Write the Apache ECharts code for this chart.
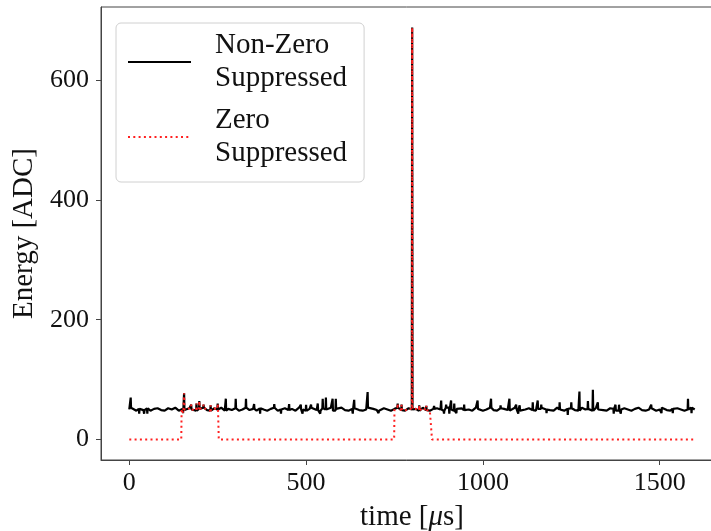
<!DOCTYPE html>
<html>
<head>
<meta charset="utf-8">
<script src="https://cdn.jsdelivr.net/npm/echarts@6/dist/echarts.min.js"></script>
<style>html,body{margin:0;padding:0;background:#fff}#c{width:711px;height:531px}</style>
</head>
<body>
<div id="c"></div>
<script>
// ---- data ----
const seriesNames = ['Non-Zero\nSuppressed', 'Zero\nSuppressed'];
const xTicks = [0, 500, 1000, 1500];
const yTicks = [0, 200, 400, 600];
const tEnd = 1599;            // last sample time [µs]
const baseStep = 10;          // baseline samples every 10 µs
const baseline = [
50,53,48,51,49,52,48,51,52,49,
48,52,50,53,48,51,49,52,50,48,
51,53,49,48,52,50,53,48,51,49,
52,48,50,53,49,51,48,52,50,48,
51,53,48,50,52,49,51,48,53,50,
48,51,53,49,48,52,50,53,48,51,
53,49,48,51,52,49,48,50,53,51,
49,48,52,50,48,51,53,49,48,52,
50,51,48,53,49,48,51,52,50,48,
53,50,48,51,52,49,50,48,53,51,
48,50,53,49,48,52,51,49,48,53,
51,48,50,52,49,48,51,53,50,49,
48,53,50,48,51,52,49,48,53,50,
51,48,53,50,49,48,52,51,48,50,
52,50,48,51,53,49,48,50,52,48,
50,53,49,48,51,52,50,48,50,53,
50
];
const spikeTimes  = [4, 28, 42, 51, 152, 155, 175, 190, 198, 210, 230, 250, 273, 301, 330, 353, 370, 410, 429, 452, 485, 490, 500, 514, 533, 540, 547, 556, 575, 584, 632, 636, 674, 705, 759, 770, 800, 820, 840, 862, 882, 890, 896, 905, 910, 919, 925, 947, 985, 1023, 1050, 1075, 1094, 1100, 1104, 1141, 1155, 1165, 1180, 1217, 1240, 1250, 1273, 1297, 1311, 1325, 1370, 1375, 1385, 1390, 1476, 1505, 1537, 1580, 1590];
const spikeValues = [70, 43, 43, 43, 44, 77, 58, 60, 64, 58, 57, 60, 68, 68, 68, 59, 43, 59, 43, 59, 58, 43, 58, 58, 60, 43, 68, 70, 68, 68, 43, 66, 79, 44, 60, 58, 688, 57, 56, 56, 65, 43, 58, 43, 65, 60, 44, 58, 65, 68, 57, 68, 58, 43, 57, 62, 65, 58, 44, 62, 41, 62, 80, 64, 83, 62, 43, 58, 58, 43, 58, 44, 44, 68, 44];
const zsWindows = [[148, 252], [750, 855]];

// ---- build series from data ----
function baseAt(t) { return baseline[Math.max(0, Math.min(baseline.length - 1, Math.round(t / baseStep)))]; }
const nz = [];
baseline.forEach((v, i) => {
  const t = Math.min(i * baseStep, tEnd);
  if (!spikeTimes.some(s => Math.abs(s - t) <= 1)) nz.push([t, v]);
});
spikeTimes.forEach((s, k) => {
  nz.push([s - 1, baseAt(s - 1)], [s, spikeValues[k]], [s + 1, baseAt(s + 1)]);
});
nz.sort((a, b) => a[0] - b[0]);

const zs = [[0, 0]];
zsWindows.forEach(([a, b]) => {
  zs.push([a - 1, 0], [a, baseAt(a)]);
  nz.filter(p => p[0] > a && p[0] < b).forEach(p => zs.push(p));
  zs.push([b, baseAt(b)], [b + 1, 0]);
});
zs.push([tEnd, 0]);

const FONT = 'Liberation Serif';
const chart = echarts.init(document.getElementById('c'), null, { renderer: 'canvas' });
chart.setOption({
  animation: false,
  backgroundColor: '#fff',
  grid: { left: 101, top: 7, right: -12, bottom: 71, show: true, borderColor: '#444', borderWidth: 1,
          backgroundColor: 'transparent', containLabel: false, outerBoundsMode: 'none' },
  legend: {
    data: seriesNames,
    orient: 'vertical',
    left: 116, top: 23,
    padding: [6, 17, 12, 11],
    itemGap: 9,
    itemWidth: 63, itemHeight: 14,
    backgroundColor: '#fff',
    borderColor: '#d0d0d0', borderWidth: 1, borderRadius: 5,
    itemStyle: { opacity: 0 },
    textStyle: { fontFamily: FONT, fontSize: 29, lineHeight: 33, color: '#111', padding: [0, 0, 0, 19] }
  },
  xAxis: {
    type: 'value', min: -80, max: 1679,
    name: 'time [{i|μ}s]', nameLocation: 'middle', nameGap: 43,
    nameTextStyle: { fontFamily: FONT, fontSize: 29, color: '#111', rich: { i: { fontFamily: FONT, fontSize: 29, fontStyle: 'italic', color: '#111' } } },
    axisLine: { show: true, onZero: false, lineStyle: { color: '#444', width: 1 } },
    axisTick: { show: true, inside: false, length: 5, lineStyle: { color: '#444' }, customValues: xTicks },
    axisLabel: { fontFamily: FONT, fontSize: 26, color: '#111', margin: 10, customValues: xTicks, formatter: v => String(v) },
    splitLine: { show: false }
  },
  yAxis: {
    type: 'value', min: -34.4, max: 722.4,
    name: 'Energy [ADC]', nameLocation: 'middle', nameGap: 62,
    nameTextStyle: { fontFamily: FONT, fontSize: 29, color: '#111' },
    axisLine: { show: true, onZero: false, lineStyle: { color: '#444', width: 1 } },
    axisTick: { show: true, inside: false, length: 5, lineStyle: { color: '#444' }, customValues: yTicks },
    axisLabel: { fontFamily: FONT, fontSize: 26, color: '#111', margin: 12, customValues: yTicks, formatter: v => String(v) },
    splitLine: { show: false }
  },
  series: [
    { name: seriesNames[0], type: 'line', data: nz, symbol: 'none', showSymbol: false, sampling: 'none',
      lineStyle: { color: '#000', width: 2.2 }, itemStyle: { color: '#000' }, z: 2 },
    { name: seriesNames[1], type: 'line', data: zs, symbol: 'none', showSymbol: false, sampling: 'none',
      lineStyle: { color: '#ff2020', width: 2, type: [2, 3.3] }, itemStyle: { color: '#ff2020' }, z: 3 }
  ]
});
</script>
</body>
</html>
